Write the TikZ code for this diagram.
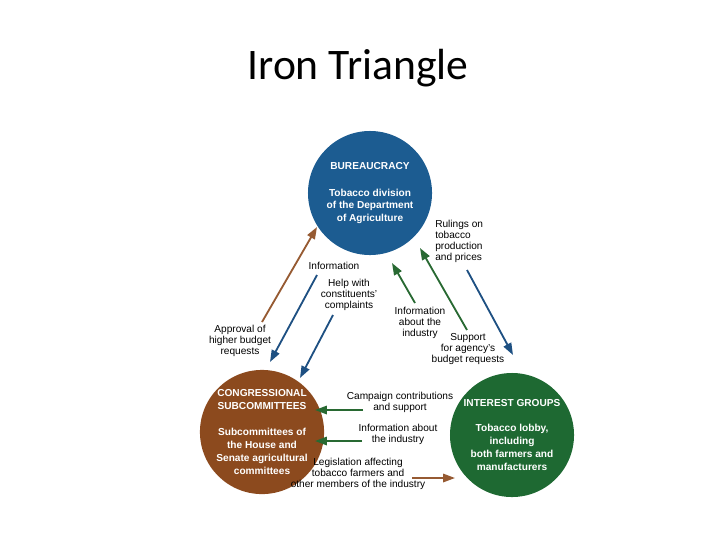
\documentclass[tikz,border=0pt]{standalone}
\usepackage{fontspec}
\setmainfont{Liberation Sans}
\newfontfamily\titlefont{Carlito}
\usetikzlibrary{arrows.meta,positioning}
\definecolor{burblue}{RGB}{28,92,145}
\definecolor{congbrown}{RGB}{140,74,30}
\definecolor{intgreen}{RGB}{30,105,50}
\definecolor{arrblue}{RGB}{30,80,130}
\definecolor{arrbrown}{RGB}{150,90,50}
\definecolor{arrgreen}{RGB}{40,105,50}
\tikzset{
  agency/.style={circle, minimum size=3.1cm, inner sep=0pt, text=white, align=center,
    font=\fontsize{7.2}{9.2}\selectfont\bfseries},
  lbl/.style={align=center, inner sep=0pt, font=\fontsize{7.2}{7.8}\selectfont},
  flow/.style={line width=1.3pt, -{Triangle[length=8.5pt,width=6pt]}}
}
\begin{document}
\begin{tikzpicture}[x=0.025cm,y=-0.025cm]
\useasboundingbox (0,0) rectangle (720,540);
\node[font=\titlefont\fontsize{31}{34}\selectfont] (title) at (358,68) {Iron Triangle};
% the three circles
\node[agency, fill=burblue] (bur) at (370,193) {BUREAUCRACY\\[10pt]Tobacco division\\of the Department\\of Agriculture};
\node[agency, fill=congbrown] (cong) at (262,432) {CONGRESSIONAL\\SUBCOMMITTEES\\[9pt]Subcommittees of\\the House and\\Senate agricultural\\committees};
\node[agency, fill=intgreen] (ig) at (512,435) {INTEREST GROUPS\\[9pt]Tobacco lobby,\\including\\both farmers and\\manufacturers};
% arrow ends
\coordinate (a1) at (262,322); \coordinate (a2) at (317,227);
\coordinate (b1) at (317,275); \coordinate (b2) at (270,362);
\coordinate (c1) at (333,315); \coordinate (c2) at (300,378);
\coordinate (d1) at (415,303); \coordinate (d2) at (392,263);
\coordinate (e1) at (467,330); \coordinate (e2) at (420,248);
\coordinate (f1) at (467,270); \coordinate (f2) at (513,355);
\coordinate (g1) at (363,410); \coordinate (g2) at (315,410);
\coordinate (h1) at (362,441); \coordinate (h2) at (315,441);
\coordinate (k1) at (412,478); \coordinate (k2) at (455,478);
\draw[flow, arrbrown] (a1) -- (a2);
\draw[flow, arrblue] (b1) -- (b2);
\draw[flow, arrblue] (c1) -- (c2);
\draw[flow, arrgreen] (d1) -- (d2);
\draw[flow, arrgreen] (e1) -- (e2);
\draw[flow, arrblue] (f1) -- (f2);
\draw[flow, arrgreen] (g1) -- (g2);
\draw[flow, arrgreen] (h1) -- (h2);
\draw[flow, arrbrown] (k1) -- (k2);
% labels
\node[lbl] (info) at (334,266) {Information};
\node[lbl] (help) at (349,295) {Help with\\constituents'\\complaints};
\node[lbl, anchor=west, align=left] (rul) at (435,241) {Rulings on\\tobacco\\production\\and prices};
\node[lbl] (infoind) at (420,323) {Information\\about the\\industry};
\node[lbl] (supp) at (468,349) {Support\\for agency's\\budget requests};
\node[lbl] (appr) at (240,341) {Approval of\\higher budget\\requests};
\node[lbl] (camp) at (400,402) {Campaign contributions\\and support};
\node[lbl] (infoab) at (398,434) {Information about\\the industry};
\node[lbl] (legis) at (358,474) {Legislation affecting\\tobacco farmers and\\other members of the industry};
\end{tikzpicture}
\end{document}
